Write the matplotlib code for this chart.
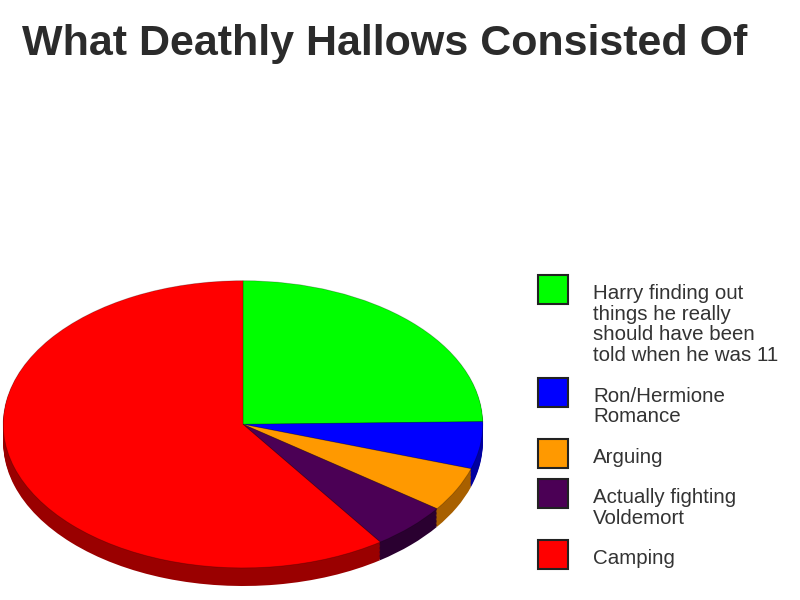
import numpy as np
import matplotlib
matplotlib.use('Agg')
from matplotlib import pyplot as plt
from matplotlib.patches import Rectangle

labels = ['Harry finding out\nthings he really\nshould have been\ntold when he was 11',
          'Ron/Hermione\nRomance',
          'Arguing',
          'Actually fighting\nVoldemort',
          'Camping']
values = [24.7, 5.3, 5.0, 5.3, 59.7]
colors = ['#00ff00', '#0000ff', '#ff9900', '#4b0055', '#ff0000']
side_colors = ['#00a000', '#0000a0', '#a86000', '#2a0030', '#9a0000']

fig = plt.figure(figsize=(8, 6), dpi=100)
fig.patch.set_facecolor('white')

# pie drawn squashed to look like a tilted disc
depth = 0.126
ax = fig.add_axes([2 / 800, 14 / 600, 482 / 800, 306 / 600])
for off in np.linspace(depth, 0.005, 14):
    ax.pie(values, colors=side_colors, startangle=90, counterclock=False,
           center=(0, -off), radius=1, wedgeprops=dict(linewidth=0))
ax.pie(values, colors=colors, startangle=90, counterclock=False,
       radius=1, wedgeprops=dict(linewidth=0.6, edgecolor='#00000040'))
ax.set_aspect('auto')
ax.set_xlim(-1.005, 1.005)
ax.set_ylim(-1 - depth, 1.005)
ax.axis('off')

fig.text(22 / 800, 1 - 55 / 600, 'What Deathly Hallows Consisted Of',
         fontsize=31, fontweight='bold', family='Liberation Sans',
         color='#2b2b2b', va='baseline', ha='left')

# legend
line_h = 21
top = 275
for lab, c in zip(labels, colors):
    n = lab.count('\n') + 1
    fig.add_artist(Rectangle((538 / 800, 1 - (top + 29) / 600), 30 / 800, 29 / 600,
                             facecolor=c, edgecolor='#222222', linewidth=1.5,
                             transform=fig.transFigure))
    fig.text(593 / 800, 1 - (top + 9) / 600, lab, fontsize=14.8,
             family='Liberation Sans', color='#333333', va='top', ha='left',
             linespacing=1.1)
    top += n * line_h + 19

fig.savefig('out.png', dpi=100, facecolor='white')
